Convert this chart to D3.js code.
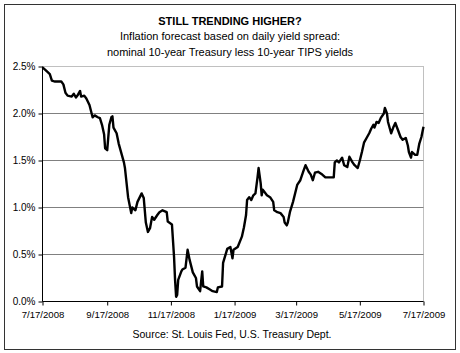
<!DOCTYPE html>
<html>
<head>
<meta charset="utf-8">
<script src="https://cdn.jsdelivr.net/npm/d3@7"></script>
<style>
  body { margin: 0; background: #fff; }
  text { font-family: "Liberation Sans", Arial, sans-serif; fill: #000; }
</style>
</head>
<body>
<svg id="chart" width="460" height="353"></svg>
<script>
// data: daily 10y Treasury less 10y TIPS spread, %
var dates = [
  '2008-07-17','2008-07-21','2008-07-24','2008-07-26','2008-07-29','2008-08-04','2008-08-06','2008-08-08',
  '2008-08-10','2008-08-14','2008-08-16','2008-08-18','2008-08-20','2008-08-22','2008-08-23','2008-08-26',
  '2008-08-28','2008-08-31','2008-09-03','2008-09-05','2008-09-08','2008-09-10','2008-09-12','2008-09-14',
  '2008-09-15','2008-09-17','2008-09-19','2008-09-21','2008-09-22','2008-09-23','2008-09-26','2008-09-28',
  '2008-10-01','2008-10-03','2008-10-04','2008-10-07','2008-10-10','2008-10-11','2008-10-14','2008-10-16',
  '2008-10-20','2008-10-22','2008-10-24','2008-10-26','2008-10-28','2008-10-30','2008-11-01','2008-11-04',
  '2008-11-06','2008-11-09','2008-11-13','2008-11-14','2008-11-18','2008-11-20','2008-11-21','2008-11-22',
  '2008-11-23','2008-11-24','2008-11-27','2008-11-28','2008-12-01','2008-12-03','2008-12-05','2008-12-08',
  '2008-12-11','2008-12-12','2008-12-15','2008-12-17','2008-12-18','2008-12-21','2008-12-24','2008-12-27',
  '2008-12-31','2009-01-01','2009-01-05','2009-01-06','2009-01-10','2009-01-13','2009-01-15','2009-01-16',
  '2009-01-20','2009-01-24','2009-01-26','2009-01-28','2009-01-29','2009-01-31','2009-02-02','2009-02-04',
  '2009-02-06','2009-02-08','2009-02-09','2009-02-11','2009-02-12','2009-02-13','2009-02-17','2009-02-20',
  '2009-02-23','2009-02-24','2009-02-27','2009-03-02','2009-03-05','2009-03-06','2009-03-08','2009-03-09',
  '2009-03-11','2009-03-14','2009-03-18','2009-03-21','2009-03-24','2009-03-26','2009-03-29','2009-03-31',
  '2009-04-02','2009-04-04','2009-04-07','2009-04-11','2009-04-14','2009-04-22','2009-04-23','2009-04-25',
  '2009-04-27','2009-04-30','2009-05-02','2009-05-05','2009-05-07','2009-05-10','2009-05-12','2009-05-15',
  '2009-05-17','2009-05-19','2009-05-21','2009-05-24','2009-05-26','2009-05-28','2009-05-30','2009-05-31',
  '2009-06-02','2009-06-04','2009-06-06','2009-06-09','2009-06-10','2009-06-12','2009-06-13','2009-06-16',
  '2009-06-18','2009-06-20','2009-06-22','2009-06-25','2009-06-27','2009-06-30','2009-07-02','2009-07-03',
  '2009-07-05','2009-07-06','2009-07-09','2009-07-11','2009-07-13','2009-07-15','2009-07-17'
];
var spread = [
  2.49,2.45,2.42,2.35,2.34,2.34,2.31,2.22,
  2.19,2.18,2.21,2.17,2.20,2.24,2.18,2.19,
  2.16,2.09,1.96,1.98,1.96,1.95,1.88,1.78,
  1.63,1.61,1.88,1.96,1.97,1.85,1.79,1.68,
  1.56,1.48,1.42,1.11,0.94,1.00,0.97,1.06,
  1.15,1.10,0.84,0.74,0.78,0.90,0.87,0.92,
  0.95,0.97,0.95,0.85,0.82,0.48,0.23,0.05,
  0.07,0.23,0.32,0.34,0.36,0.55,0.44,0.31,
  0.25,0.16,0.11,0.32,0.16,0.15,0.13,0.11,
  0.10,0.15,0.16,0.41,0.56,0.58,0.46,0.55,
  0.58,0.69,0.79,0.92,1.08,1.11,1.08,1.13,
  1.15,1.32,1.42,1.26,1.13,1.19,1.13,1.11,
  1.06,0.97,0.95,0.94,0.90,0.84,0.81,0.84,
  0.95,1.06,1.24,1.29,1.39,1.45,1.38,1.35,
  1.29,1.37,1.38,1.35,1.32,1.32,1.48,1.50,
  1.48,1.53,1.45,1.43,1.54,1.48,1.45,1.42,
  1.50,1.59,1.69,1.75,1.79,1.84,1.88,1.85,
  1.91,1.90,1.95,2.00,2.06,2.00,1.91,1.79,
  1.85,1.90,1.84,1.75,1.72,1.74,1.66,1.59,
  1.53,1.59,1.56,1.56,1.68,1.75,1.86
];
var yTicks = [0, 0.5, 1.0, 1.5, 2.0, 2.5];
var xTicks = ['2008-07-17','2008-09-17','2008-11-17','2009-01-17','2009-03-17','2009-05-17','2009-07-17'];

var title = 'STILL TRENDING HIGHER?',
    subtitle = ['Inflation forecast based on daily yield spread:',
                'nominal 10-year Treasury less 10-year TIPS yields'],
    source = 'Source: St. Louis Fed, U.S. Treasury Dept.';

var parse = d3.timeParse('%Y-%m-%d'),
    fmt = d3.timeFormat('%-m/%-d/%Y');

var svg = d3.select('#chart'),
    margin = {left: 42.5, right: 36.5, top: 66.5, bottom: 51.5},
    width = 460 - margin.left - margin.right,
    height = 353 - margin.top - margin.bottom;

// outer frame
svg.append('rect')
    .attr('x', 4.5).attr('y', 4.5)
    .attr('width', 451).attr('height', 345)
    .attr('fill', '#fff')
    .attr('stroke', '#333')
    .attr('stroke-width', 1);

var g = svg.append('g')
    .attr('transform', 'translate(' + margin.left + ',' + margin.top + ')');

var x = d3.scaleTime()
    .domain([parse(xTicks[0]), parse(xTicks[xTicks.length - 1])])
    .range([0, width]);
var y = d3.scaleLinear()
    .domain([0, 2.5])
    .range([height, 0]);

// plot area border (light) and gridlines
g.append('rect')
    .attr('width', width).attr('height', height)
    .attr('fill', 'none')
    .attr('stroke', '#c0c0c0');

g.selectAll('.grid').data(yTicks.slice(1, -1)).enter()
  .append('line')
    .attr('x1', 0).attr('x2', width)
    .attr('y1', function(d) { return Math.round(y(d)); })
    .attr('y2', function(d) { return Math.round(y(d)); })
    .attr('stroke', '#808080');

// axes
var yAxis = g.append('g')
    .call(d3.axisLeft(y).tickValues(yTicks).tickSize(4).tickPadding(3)
        .tickFormat(function(d) { return d3.format('.1f')(d) + '%'; }));
var xAxis = g.append('g')
    .attr('transform', 'translate(0,' + height + ')')
    .call(d3.axisBottom(x).tickValues(xTicks.map(parse)).tickSize(4).tickPadding(6)
        .tickFormat(fmt));

[yAxis, xAxis].forEach(function(a) {
    a.select('.domain').attr('stroke', '#000');
    a.selectAll('.tick line').attr('stroke', '#000');
    a.selectAll('text').style('font-size', '10px').attr('fill', '#000');
});
xAxis.selectAll('text').style('font-size', '9.6px');
yAxis.select('.domain').attr('d', 'M0,' + height + 'V0');
xAxis.select('.domain').attr('d', 'M0,0H' + width);

// spread line
var line = d3.line()
    .x(function(d) { return x(d[0]); })
    .y(function(d) { return y(d[1]); });

g.append('path')
    .datum(dates.map(function(d, i) { return [parse(d), spread[i]]; }))
    .attr('d', line)
    .attr('fill', 'none')
    .attr('stroke', '#000')
    .attr('stroke-width', 2.4)
    .attr('stroke-linejoin', 'round');

// titles
svg.append('text')
    .attr('x', 230).attr('y', 25)
    .attr('text-anchor', 'middle')
    .style('font-size', '11px')
    .style('font-weight', 'bold')
    .text(title);
svg.selectAll('.sub').data(subtitle).enter()
  .append('text')
    .attr('x', 230)
    .attr('y', function(d, i) { return 40 + i * 16; })
    .attr('text-anchor', 'middle')
    .style('font-size', '11px')
    .text(function(d) { return d; });
svg.append('text')
    .attr('x', 232).attr('y', 338)
    .attr('text-anchor', 'middle')
    .style('font-size', '10.5px')
    .text(source);
</script>
</body>
</html>
